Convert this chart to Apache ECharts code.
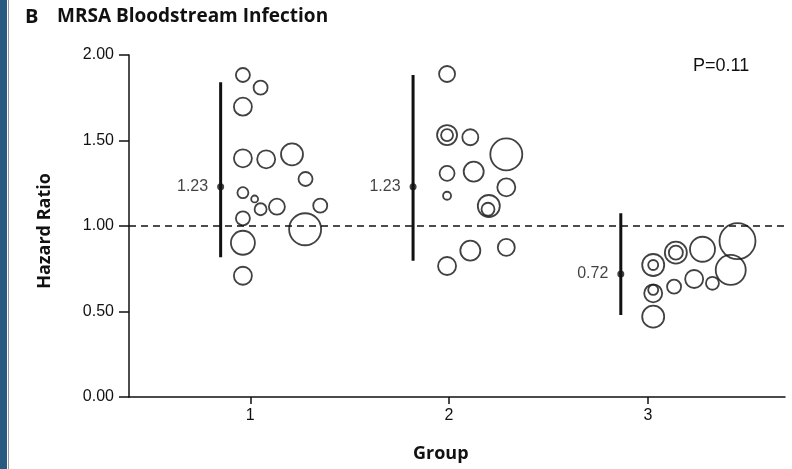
<!DOCTYPE html>
<html>
<head>
<meta charset="utf-8">
<script src="https://cdn.jsdelivr.net/npm/echarts@6/dist/echarts.min.js"></script>
<style>html,body{margin:0;padding:0;background:#fff}#c{width:792px;height:469px}</style>
</head>
<body>
<div id="c"></div>
<script>
// ---- data ----
const yTicks = [0, 0.5, 1.0, 1.5, 2.0];
const xTicks = [1, 2, 3];
const groups = ['1', '2', '3'];

// pooled hazard ratio and 95% CI per group
const hrPoint = [1.23, 1.23, 0.72];
const hrLow   = [0.817, 0.797, 0.480];
const hrHigh  = [1.840, 1.883, 1.074];
const ciPos   = [0.851, 1.819, 2.864];
const refLine = 1.0;
const pValue = 'P=0.11';

// individual studies: jitter position, hazard ratio, weight
const g1X = [0.963, 1.052, 0.963, 0.963, 1.080, 1.210, 1.278, 0.963, 1.022, 1.052, 1.134, 1.352, 0.963, 1.276, 0.963, 0.963];
const g1Y = [1.883, 1.809, 1.698, 1.396, 1.390, 1.419, 1.275, 1.195, 1.158, 1.098, 1.113, 1.119, 1.045, 0.981, 0.902, 0.709];
const g1W = [49, 49, 81, 81, 81, 121, 49, 30, 12, 36, 64, 49, 49, 256, 144, 81];

const g2X = [1.990, 1.990, 1.990, 2.107, 2.288, 1.990, 2.124, 2.288, 1.990, 2.200, 2.196, 2.107, 2.288, 1.990];
const g2Y = [1.889, 1.532, 1.532, 1.519, 1.419, 1.308, 1.318, 1.226, 1.177, 1.117, 1.098, 0.856, 0.875, 0.766];
const g2W = [64, 100, 36, 64, 256, 56, 100, 81, 16, 121, 42, 100, 72, 81];

const g3X = [3.027, 3.027, 3.141, 3.141, 3.275, 3.451, 3.417, 3.325, 3.233, 3.132, 3.027, 3.027, 3.027];
const g3Y = [0.772, 0.772, 0.844, 0.844, 0.864, 0.912, 0.743, 0.665, 0.690, 0.645, 0.606, 0.626, 0.470];
const g3W = [121, 25, 121, 49, 156, 324, 225, 42, 81, 49, 81, 25, 121];

// ---- chart ----
const FONT = "'Liberation Sans', Arial, sans-serif";
const HFONT = "'Open Sans', 'Liberation Sans', sans-serif";
const INK = '#111';
const chart = echarts.init(document.getElementById('c'), null, {renderer: 'canvas'});

function studies(xs, ys, ws) {
  return xs.map((x, i) => [x, ys[i], ws[i]]);
}
const studySeries = [[g1X, g1Y, g1W], [g2X, g2Y, g2W], [g3X, g3Y, g3W]].map((g, gi) => ({
  type: 'scatter',
  name: 'Group ' + groups[gi],
  data: studies(g[0], g[1], g[2]),
  symbol: 'circle',
  symbolSize: d => 2 * Math.sqrt(d[2]),
  itemStyle: {color: 'rgba(255,255,255,0)', borderColor: INK, borderWidth: 1.8},
  z: 3,
  silent: true
}));

const ciSeries = groups.map((g, i) => ({
  type: 'line',
  data: [[ciPos[i], hrLow[i]], [ciPos[i], hrHigh[i]]],
  showSymbol: false,
  lineStyle: {color: INK, width: 3},
  z: 4,
  silent: true
}));

const pointSeries = {
  type: 'scatter',
  data: hrPoint.map((v, i) => [ciPos[i], v]),
  symbolSize: 7,
  itemStyle: {color: INK},
  label: {
    show: true, position: 'left', distance: 9,
    formatter: p => p.value[1].toFixed(2),
    color: INK, fontFamily: FONT, fontSize: 16
  },
  z: 5,
  silent: true
};

const refSeries = {
  type: 'line',
  data: [],
  markLine: {
    silent: true, symbol: 'none',
    label: {show: false},
    lineStyle: {color: INK, type: [7, 5], width: 1.5},
    data: [{yAxis: refLine}]
  }
};

chart.setOption({
  animation: false,
  backgroundColor: '#fff',
  grid: {left: 129, right: 7, top: 55, bottom: 72, containLabel: false},
  xAxis: {
    type: 'value', min: 0.39, max: 3.69,
    splitLine: {show: false},
    axisLine: {lineStyle: {color: INK, width: 1.5}},
    axisTick: {customValues: xTicks, length: 7, lineStyle: {color: INK, width: 1.5}},
    axisLabel: {customValues: xTicks, color: INK, fontFamily: FONT, fontSize: 16, margin: 11,
      formatter: v => String(Math.round(v))}
  },
  yAxis: {
    type: 'value', min: 0, max: 2, interval: 0.5,
    splitLine: {show: false},
    axisLine: {show: true, lineStyle: {color: INK, width: 1.5}},
    axisTick: {show: true, length: 10, lineStyle: {color: INK, width: 1.5}},
    axisLabel: {color: INK, fontFamily: FONT, fontSize: 16, margin: 15,
      formatter: v => v.toFixed(2)},
    name: 'Hazard Ratio', nameLocation: 'middle', nameGap: 75, nameRotate: 90,
    nameTextStyle: {color: INK, fontFamily: HFONT, fontSize: 18, fontWeight: 'bold', padding: [0, 10, 0, 0]}
  },
  graphic: [
    {type: 'rect', left: 0, top: 0, shape: {width: 7, height: 469}, style: {fill: '#2a5a80'}, silent: true},
    {type: 'rect', left: 8, top: 0, shape: {width: 1, height: 469}, style: {fill: '#9a9a9a'}, silent: true},
    {type: 'text', left: 25, top: 7, style: {text: 'B', font: "bold 20px " + HFONT, fill: INK}},
    {type: 'text', left: 57, top: 7, style: {text: 'MRSA Bloodstream Infection', font: "bold 19px " + HFONT, fill: INK}},
    {type: 'text', left: 693, top: 57, style: {text: pValue, font: "18px " + FONT, fill: INK}},
    {type: 'text', left: 413, top: 445, style: {text: 'Group', font: "bold 18px " + HFONT, fill: INK}}
  ],
  series: [refSeries, ...ciSeries, ...studySeries, pointSeries]
});
</script>
</body>
</html>
